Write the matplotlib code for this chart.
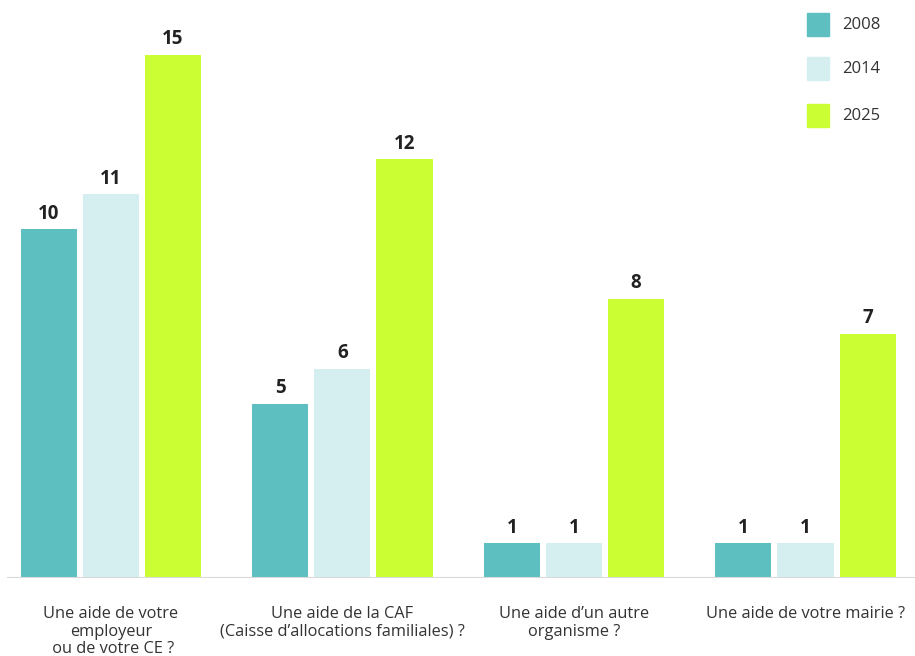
import numpy as np
import matplotlib.pyplot as plt
from matplotlib.patches import Rectangle

plt.rcParams['font.family'] = ['Open Sans', 'DejaVu Sans']

categories = [
    "Une aide de votre\nemployeur\n ou de votre CE ?",
    "Une aide de la CAF\n(Caisse d\u2019allocations familiales) ?",
    "Une aide d\u2019un autre\norganisme ?",
    "Une aide de votre mairie ?",
]
years = ["2008", "2014", "2025"]
values_2008 = [10, 5, 1, 1]
values_2014 = [11, 6, 1, 1]
values_2025 = [15, 12, 8, 7]
colors = ["#5dbfc0", "#d5eff0", "#ccff33"]

series = [values_2008, values_2014, values_2025]
x = np.arange(len(categories))
width = 0.242
step = 0.268

fig = plt.figure(figsize=(9.15, 6.56), dpi=100)
ax = fig.add_axes([7 / 915, 78 / 656, 908 / 915, 558.4 / 656])

for i, (vals, col) in enumerate(zip(series, colors)):
    pos = x + (i - 1) * step
    ax.bar(pos, vals, width=width, color=col, edgecolor="none", zorder=2)
    for p, v in zip(pos, vals):
        ax.annotate(str(v), (p, v), xytext=(0, 7.5), textcoords="offset points",
                    ha="center", va="baseline", fontsize=13.5, fontweight="bold",
                    color="#222222")

ax.set_xlim(-0.449, 3.473)
ax.set_ylim(0, 16)
ax.axhline(0, color="#d9d9d9", linewidth=1.5, zorder=3)
for s in ax.spines.values():
    s.set_visible(False)
ax.set_yticks([])
ax.set_xticks(x)
ax.set_xticklabels(categories, fontsize=11.8, color="#333333", linespacing=1.15, va="top")
ax.tick_params(axis="x", length=0, pad=20)

# legend
leg_y = [13, 57, 104]
for yr, col, ytop in zip(years, colors, leg_y):
    fig.patches.append(Rectangle((807 / 915, 1 - (ytop + 23) / 656), 22 / 915, 23 / 656,
                                 transform=fig.transFigure, color=col))
    fig.text(842 / 915, 1 - (ytop + 12) / 656, yr, fontsize=12, color="#333333",
             va="center", ha="left")

fig.savefig("out.png", dpi=100)
